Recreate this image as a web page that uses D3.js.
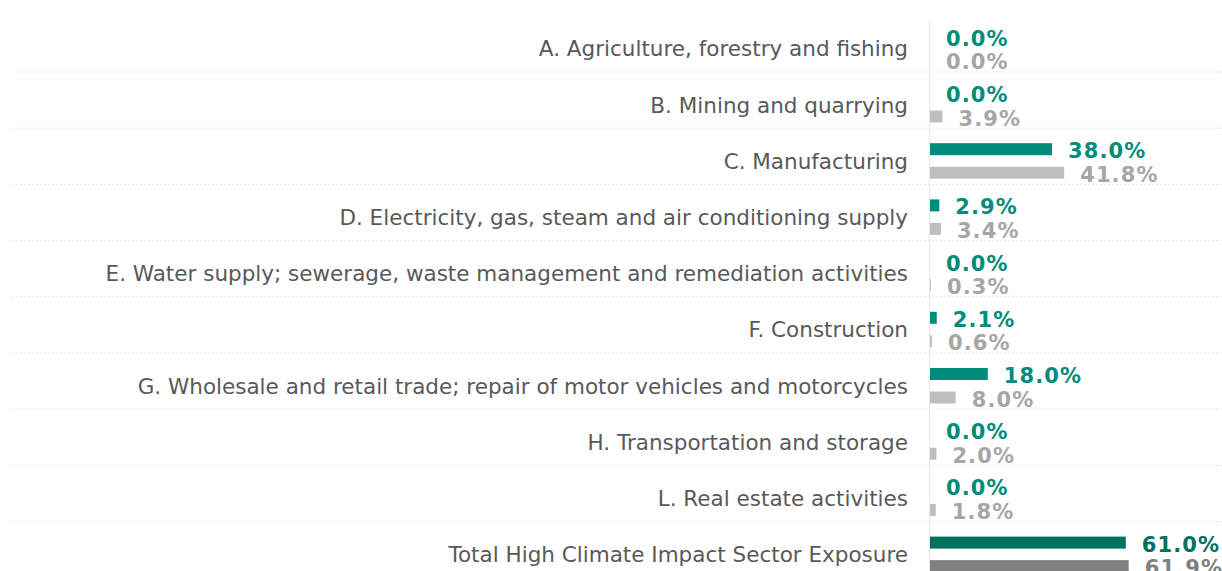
<!DOCTYPE html>
<html>
<head>
<meta charset="utf-8">
<script src="https://cdn.jsdelivr.net/npm/d3@7"></script>
<style>
  body { margin: 0; background: #ffffff; }
  svg { display: block; }
</style>
</head>
<body>
<div id="chart"></div>
<script>
// sectors, top to bottom
var sectors = [
    "A. Agriculture, forestry and fishing",
    "B. Mining and quarrying",
    "C. Manufacturing",
    "D. Electricity, gas, steam and air conditioning supply",
    "E. Water supply; sewerage, waste management and remediation activities",
    "F. Construction",
    "G. Wholesale and retail trade; repair of motor vehicles and motorcycles",
    "H. Transportation and storage",
    "L. Real estate activities",
    "Total High Climate Impact Sector Exposure"
];
var portfolio = [0.0, 0.0, 38.0, 2.9, 0.0, 2.1, 18.0, 0.0, 0.0, 61.0];
var benchmark = [0.0, 3.9, 41.8, 3.4, 0.3, 0.6, 8.0, 2.0, 1.8, 61.9];

var width = 1222, height = 571;
var axisX = 930;
var rowStep = 56.2, top0 = 15.8;

var green = "#008C7A", grey = "#BFBFBF", greyText = "#A6A6A6";
var totalGreen = "#00705F", totalGrey = "#808080";

var svg = d3.select("#chart")
    .append("svg")
    .attr("width", width)
    .attr("height", height)
    .style("font-family", "'DejaVu Sans', Verdana, sans-serif");

var y = d3.scaleBand()
    .domain(sectors)
    .range([top0, top0 + rowStep * sectors.length])
    .padding(0);

var sub = d3.scaleBand()
    .domain(["portfolio", "benchmark"])
    .range([15, 50.5])
    .paddingInner(0.49);

var x = d3.scaleLinear()
    .domain([0, 100])
    .range([axisX, axisX + 321]);

var isTotal = function(i) { return i == sectors.length - 1; };

// dotted row separators
svg.selectAll(".sep").data(sectors.slice(0, -1))
    .enter().append("line")
    .attr("class", "sep")
    .attr("x1", 12)
    .attr("x2", width)
    .attr("y1", function(d) { return y(d) + y.bandwidth(); })
    .attr("y2", function(d) { return y(d) + y.bandwidth(); })
    .attr("stroke", "#E6E6E6")
    .attr("stroke-width", 1)
    .attr("stroke-dasharray", "2,2");

// vertical axis line
svg.append("line")
    .attr("x1", x(0) - 0.5)
    .attr("x2", x(0) - 0.5)
    .attr("y1", 20)
    .attr("y2", height)
    .attr("stroke", "#E8E8E8")
    .attr("stroke-width", 1);

// category labels
svg.selectAll(".cat").data(sectors)
    .enter().append("text")
    .attr("class", "cat")
    .attr("x", axisX - 22)
    .attr("y", function(d) { return y(d) + y.bandwidth() / 2 + 5; })
    .attr("text-anchor", "end")
    .attr("dominant-baseline", "central")
    .style("font-size", "21.5px")
    .style("fill", "#595959")
    .text(function(d) { return d; });

// bars and value labels
function drawSeries(key, values, col, totalCol, textCol, totalTextCol) {
    svg.selectAll(".bar-" + key).data(values)
        .enter().append("rect")
        .attr("class", "bar-" + key)
        .attr("x", x(0))
        .attr("y", function(d, i) { return y(sectors[i]) + sub(key); })
        .attr("width", function(d) { return x(d) - x(0); })
        .attr("height", sub.bandwidth())
        .attr("fill", function(d, i) { return isTotal(i) ? totalCol : col; });

    svg.selectAll(".lbl-" + key).data(values)
        .enter().append("text")
        .attr("class", "lbl-" + key)
        .attr("x", function(d) { return x(d) + 16; })
        .attr("y", function(d, i) { return y(sectors[i]) + sub(key) + sub.bandwidth() / 2 + 2; })
        .attr("dominant-baseline", "central")
        .style("font-size", "21px")
        .style("font-weight", "bold")
        .style("letter-spacing", "1.1px")
        .style("fill", function(d, i) { return isTotal(i) ? totalTextCol : textCol; })
        .text(function(d) { return d.toFixed(1) + "%"; });
}

drawSeries("portfolio", portfolio, green, totalGreen, green, totalGreen);
drawSeries("benchmark", benchmark, grey, totalGrey, greyText, totalGrey);
</script>
</body>
</html>
